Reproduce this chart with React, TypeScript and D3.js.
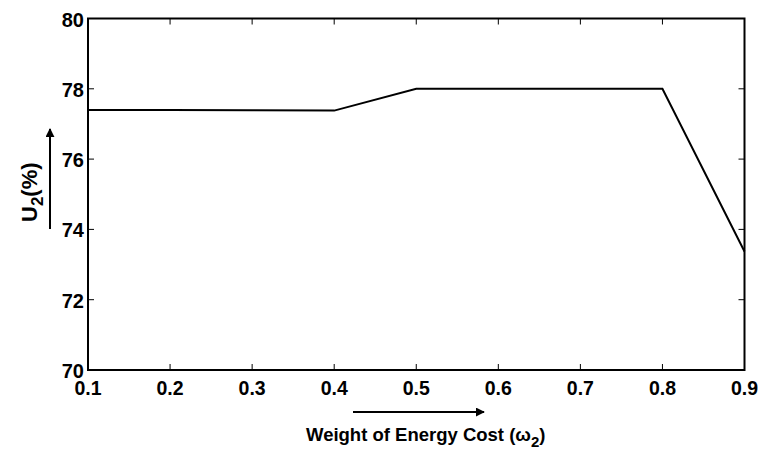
import React from "react";
import * as d3 from "d3";

const xValues = [0.1, 0.2, 0.3, 0.4, 0.5, 0.6, 0.7, 0.8, 0.9];
const yValues = [77.4, 77.4, 77.39, 77.38, 78.0, 78.0, 78.0, 78.0, 73.37];
const xTicks = [0.1, 0.2, 0.3, 0.4, 0.5, 0.6, 0.7, 0.8, 0.9];
const yTicks = [70, 72, 74, 76, 78, 80];

const W = 761, H = 451;
const L = 88, R = 744.5, T = 18.5, B = 370;

export default function App() {
  const x = d3.scaleLinear().domain([0.1, 0.9]).range([L, R]);
  const y = d3.scaleLinear().domain([70, 80]).range([B, T]);
  const line = d3.line<number>().x((_, i) => x(xValues[i])).y((d) => y(d));
  const font = "'Liberation Sans', Arial, sans-serif";
  return (
    <svg width={W} height={H} style={{ position: "absolute", left: 0, top: 0 }}>
      <defs>
        <marker id="ah" viewBox="0 0 10 10" refX="9" refY="5" markerWidth="4.5" markerHeight="4.5" orient="auto">
          <path d="M0,0 L10,5 L0,10 z" fill="#000" />
        </marker>
      </defs>
      <rect width={W} height={H} fill="#fff" />
      {xTicks.map((t) => (
        <g key={"x" + t}>
          <line x1={x(t)} x2={x(t)} y1={B} y2={B - 6} stroke="#000" strokeWidth={1} />
          <line x1={x(t)} x2={x(t)} y1={T} y2={T + 6} stroke="#000" strokeWidth={1} />
          <text x={x(t)} y={395} fontFamily={font} fontWeight="bold" fontSize={19.5} textAnchor="middle">{t.toFixed(1)}</text>
        </g>
      ))}
      {yTicks.map((t) => (
        <g key={"y" + t}>
          <line x1={L} x2={L + 6} y1={y(t)} y2={y(t)} stroke="#000" strokeWidth={1} />
          <line x1={R} x2={R - 6} y1={y(t)} y2={y(t)} stroke="#000" strokeWidth={1} />
          <text x={84} y={y(t) + 8} fontFamily={font} fontWeight="bold" fontSize={20} textAnchor="end">{t}</text>
        </g>
      ))}
      <rect x={L} y={T} width={R - L} height={B - T} fill="none" stroke="#000" strokeWidth={2} />
      <path d={line(yValues) || ""} fill="none" stroke="#000" strokeWidth={2} />
      <line x1={353} x2={484} y1={412} y2={412} stroke="#000" strokeWidth={2} markerEnd="url(#ah)" />
      <text x={306} y={441} fontFamily={font} fontWeight="bold" fontSize={18.5}>
        Weight of Energy Cost (ω<tspan fontSize={15} dy={6}>2</tspan><tspan dy={-6}>)</tspan>
      </text>
      <line x1={50} x2={50} y1={229} y2={129} stroke="#000" strokeWidth={2} markerEnd="url(#ah)" />
      <text transform="translate(37,222) rotate(-90)" fontFamily={font} fontWeight="bold" fontSize={22}>
        U<tspan fontSize={17} dy={6}>2</tspan><tspan dy={-6}>(%)</tspan>
      </text>
    </svg>
  );
}
